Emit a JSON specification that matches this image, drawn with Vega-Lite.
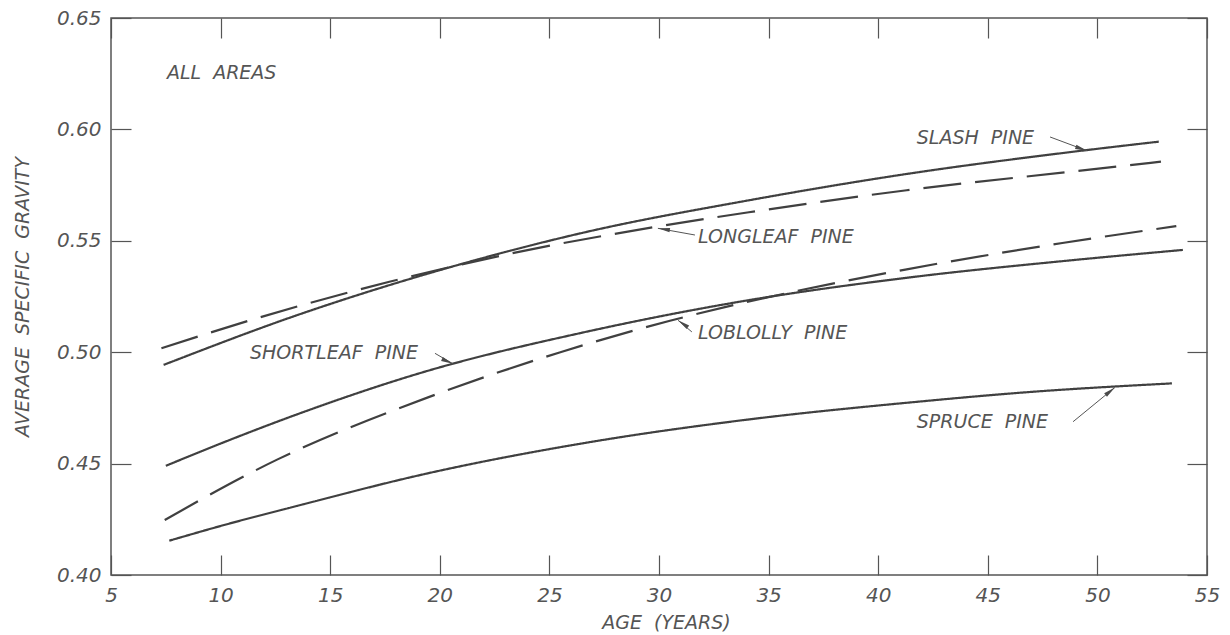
{
  "$schema": "https://vega.github.io/schema/vega-lite/v6.json",
  "width": 1096,
  "height": 557,
  "autosize": {"type": "none"},
  "padding": {"left": 111, "top": 18, "right": 23, "bottom": 60},
  "background": "#ffffff",
  "config": {
    "view": {"stroke": "#555555", "strokeWidth": 1.5},
    "font": "DejaVu Sans",
    "axis": {
      "domain": false,
      "grid": false,
      "tickColor": "#555555",
      "tickWidth": 1.2,
      "tickSize": -20,
      "labelFont": "DejaVu Sans",
      "labelFontStyle": "italic",
      "labelFontSize": 20,
      "labelColor": "#555555",
      "titleFont": "DejaVu Sans",
      "titleFontStyle": "italic",
      "titleFontWeight": "normal",
      "titleFontSize": 19,
      "titleColor": "#555555"
    },
    "point": {"shape": "M0,0L0.4,2.2L-0.4,2.2Z", "filled": true, "color": "#4a4a4a", "size": 120, "opacity": 1}
  },
  "datasets": {
    "curves": [
      {"species": "Slash", "age": 7.4, "sg": 0.4943},
      {"species": "Slash", "age": 13.6, "sg": 0.517},
      {"species": "Slash", "age": 19.5, "sg": 0.5354},
      {"species": "Slash", "age": 26.7, "sg": 0.554},
      {"species": "Slash", "age": 34, "sg": 0.568},
      {"species": "Slash", "age": 41.3, "sg": 0.58},
      {"species": "Slash", "age": 48.75, "sg": 0.5898},
      {"species": "Slash", "age": 52.8, "sg": 0.5945},
      {"species": "Longleaf", "age": 7.3, "sg": 0.5018},
      {"species": "Longleaf", "age": 11.65, "sg": 0.5152},
      {"species": "Longleaf", "age": 17.7, "sg": 0.5316},
      {"species": "Longleaf", "age": 23.3, "sg": 0.5444},
      {"species": "Longleaf", "age": 30, "sg": 0.5565},
      {"species": "Longleaf", "age": 34.1, "sg": 0.5628},
      {"species": "Longleaf", "age": 41.3, "sg": 0.5727},
      {"species": "Longleaf", "age": 48.75, "sg": 0.581},
      {"species": "Longleaf", "age": 52.9, "sg": 0.5855},
      {"species": "Shortleaf", "age": 7.5, "sg": 0.449},
      {"species": "Shortleaf", "age": 10, "sg": 0.459},
      {"species": "Shortleaf", "age": 13.6, "sg": 0.4725},
      {"species": "Shortleaf", "age": 19.4, "sg": 0.4915},
      {"species": "Shortleaf", "age": 26.7, "sg": 0.5092},
      {"species": "Shortleaf", "age": 34, "sg": 0.5232},
      {"species": "Shortleaf", "age": 41.3, "sg": 0.5334},
      {"species": "Shortleaf", "age": 48.75, "sg": 0.5412},
      {"species": "Shortleaf", "age": 53.9, "sg": 0.5459},
      {"species": "Loblolly", "age": 7.45, "sg": 0.4247},
      {"species": "Loblolly", "age": 12.6, "sg": 0.4519},
      {"species": "Loblolly", "age": 19.4, "sg": 0.4795},
      {"species": "Loblolly", "age": 25.5, "sg": 0.5},
      {"species": "Loblolly", "age": 30.5, "sg": 0.5141},
      {"species": "Loblolly", "age": 35.5, "sg": 0.5258},
      {"species": "Loblolly", "age": 41.3, "sg": 0.5372},
      {"species": "Loblolly", "age": 48.4, "sg": 0.549},
      {"species": "Loblolly", "age": 53.6, "sg": 0.5566},
      {"species": "Spruce", "age": 7.66, "sg": 0.4154},
      {"species": "Spruce", "age": 10, "sg": 0.422},
      {"species": "Spruce", "age": 13.6, "sg": 0.4313},
      {"species": "Spruce", "age": 19.3, "sg": 0.4453},
      {"species": "Spruce", "age": 26.7, "sg": 0.4594},
      {"species": "Spruce", "age": 34, "sg": 0.4697},
      {"species": "Spruce", "age": 41.3, "sg": 0.4773},
      {"species": "Spruce", "age": 47, "sg": 0.4822},
      {"species": "Spruce", "age": 53.4, "sg": 0.486}
    ],
    "labels": [
      {"text": "ALL\u00a0\u00a0AREAS", "age": 7.55, "sg": 0.6253},
      {"text": "SLASH\u00a0\u00a0PINE", "age": 41.76, "sg": 0.596},
      {"text": "LONGLEAF\u00a0\u00a0PINE", "age": 31.78, "sg": 0.5517},
      {"text": "LOBLOLLY\u00a0\u00a0PINE", "age": 31.78, "sg": 0.5086},
      {"text": "SHORTLEAF\u00a0\u00a0PINE", "age": 11.34, "sg": 0.4996},
      {"text": "SPRUCE\u00a0\u00a0PINE", "age": 41.76, "sg": 0.4688}
    ],
    "arrows": [
      {"species": "Slash", "age": 47.84, "sg": 0.5966, "age2": 49.53, "sg2": 0.5904},
      {"species": "Longleaf", "age": 31.64, "sg": 0.5526, "age2": 29.95, "sg2": 0.5556},
      {"species": "Loblolly", "age": 31.5, "sg": 0.5091, "age2": 30.87, "sg2": 0.5143},
      {"species": "Shortleaf", "age": 19.78, "sg": 0.4995, "age2": 20.6, "sg2": 0.4948},
      {"species": "Spruce", "age": 48.89, "sg": 0.4688, "age2": 50.8, "sg2": 0.4842}
    ]
  },
  "layer": [
    {
      "data": {"name": "curves"},
      "mark": {"type": "line", "interpolate": "monotone", "color": "#404040", "strokeWidth": 2.2},
      "encoding": {
        "x": {
          "field": "age", "type": "quantitative",
          "scale": {"domain": [5, 55], "nice": false, "zero": false},
          "axis": {"orient": "bottom", "values": [5, 10, 15, 20, 25, 30, 35, 40, 45, 50, 55], "title": "AGE\u00a0\u00a0(YEARS)", "labelPadding": 30, "titlePadding": 8, "titleX": 555, "labelFlush": false}
        },
        "y": {
          "field": "sg", "type": "quantitative",
          "scale": {"domain": [0.4, 0.65], "nice": false, "zero": false},
          "axis": {"orient": "left", "values": [0.4, 0.45, 0.5, 0.55, 0.6, 0.65], "format": ".2f", "title": "AVERAGE\u00a0\u00a0SPECIFIC\u00a0\u00a0GRAVITY", "labelPadding": 30, "titlePadding": 24, "labelFlush": false}
        },
        "detail": {"field": "species"},
        "strokeDash": {
          "field": "species", "type": "nominal",
          "scale": {"domain": ["Slash", "Longleaf", "Shortleaf", "Loblolly", "Spruce"], "range": [[1, 0], [38, 14], [1, 0], [38, 14], [1, 0]]},
          "legend": null
        }
      }
    },
    {
      "data": {"name": "curves"},
      "mark": {"type": "rule", "opacity": 0},
      "encoding": {
        "x": {"field": "age", "type": "quantitative", "axis": {"orient": "top", "values": [5, 10, 15, 20, 25, 30, 35, 40, 45, 50, 55], "labels": false, "title": null}},
        "y": {"field": "sg", "type": "quantitative", "axis": {"orient": "right", "values": [0.4, 0.45, 0.5, 0.55, 0.6, 0.65], "labels": false, "title": null}}
      }
    },
    {
      "data": {"name": "arrows"},
      "mark": {"type": "rule", "color": "#555555", "strokeWidth": 1},
      "encoding": {
        "x": {"field": "age", "type": "quantitative", "axis": null},
        "y": {"field": "sg", "type": "quantitative", "axis": null},
        "x2": {"field": "age2"},
        "y2": {"field": "sg2"}
      }
    },
    {
      "data": {"name": "arrows"},
      "transform": [{"filter": "datum.species === 'Slash'"}],
      "mark": {"type": "point", "angle": 109},
      "encoding": {
        "x": {"field": "age2", "type": "quantitative", "axis": null},
        "y": {"field": "sg2", "type": "quantitative", "axis": null}
      }
    },
    {
      "data": {"name": "arrows"},
      "transform": [{"filter": "datum.species === 'Longleaf'"}],
      "mark": {"type": "point", "angle": 279},
      "encoding": {
        "x": {"field": "age2", "type": "quantitative", "axis": null},
        "y": {"field": "sg2", "type": "quantitative", "axis": null}
      }
    },
    {
      "data": {"name": "arrows"},
      "transform": [{"filter": "datum.species === 'Loblolly'"}],
      "mark": {"type": "point", "angle": 305},
      "encoding": {
        "x": {"field": "age2", "type": "quantitative", "axis": null},
        "y": {"field": "sg2", "type": "quantitative", "axis": null}
      }
    },
    {
      "data": {"name": "arrows"},
      "transform": [{"filter": "datum.species === 'Shortleaf'"}],
      "mark": {"type": "point", "angle": 114},
      "encoding": {
        "x": {"field": "age2", "type": "quantitative", "axis": null},
        "y": {"field": "sg2", "type": "quantitative", "axis": null}
      }
    },
    {
      "data": {"name": "arrows"},
      "transform": [{"filter": "datum.species === 'Spruce'"}],
      "mark": {"type": "point", "angle": 51},
      "encoding": {
        "x": {"field": "age2", "type": "quantitative", "axis": null},
        "y": {"field": "sg2", "type": "quantitative", "axis": null}
      }
    },
    {
      "data": {"name": "labels"},
      "mark": {"type": "text", "align": "left", "baseline": "middle", "font": "DejaVu Sans", "fontStyle": "italic", "fontSize": 19, "color": "#555555"},
      "encoding": {
        "x": {"field": "age", "type": "quantitative", "axis": null},
        "y": {"field": "sg", "type": "quantitative", "axis": null},
        "text": {"field": "text"}
      }
    }
  ],
  "resolve": {"axis": {"x": "independent", "y": "independent"}}
}
